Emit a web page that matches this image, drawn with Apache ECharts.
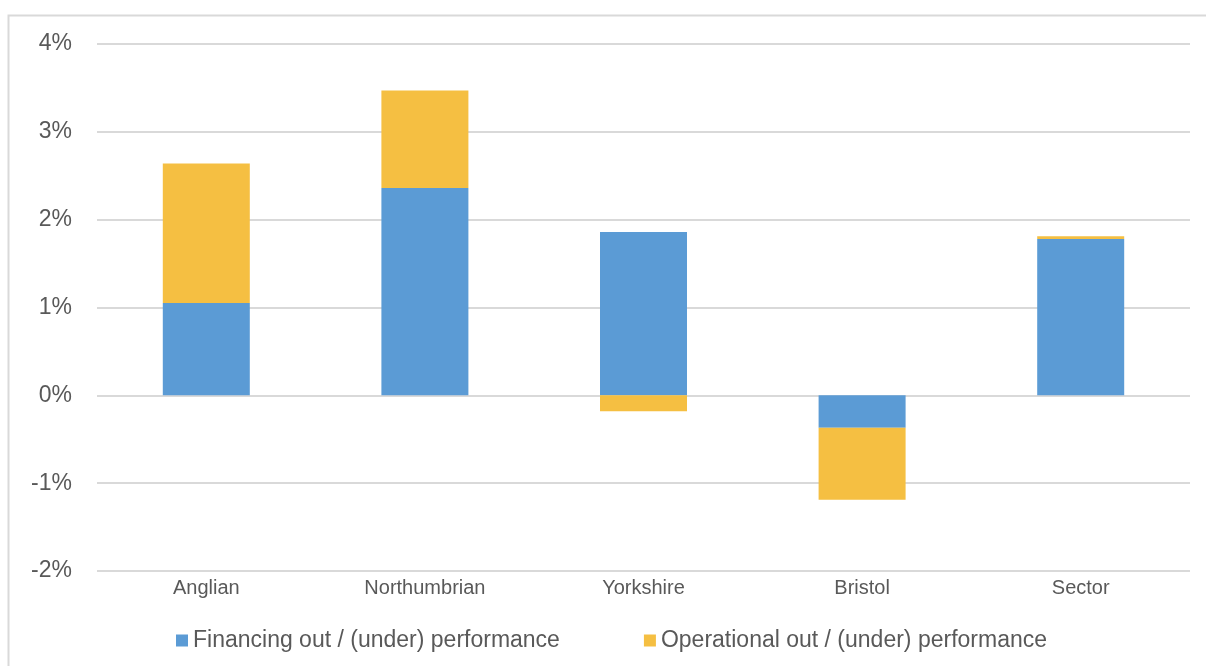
<html lang="en">
<head>
    <meta charset="UTF-8">
    <title>Out / (under) performance</title>
    <style>
        body { margin: 0; background: #fff; }
        #echart { width: 1206px; height: 666px; }
    </style>
</head>
<body>
<div id="echart"></div>
<script src="https://cdn.jsdelivr.net/npm/echarts@6/dist/echarts.min.js"></script>
<script>
    // categories and stacked values (percent)
    const companies = ['Anglian', 'Northumbrian', 'Yorkshire', 'Bristol', 'Sector']
    const financing = [1.05, 2.36, 1.86, -0.37, 1.78]
    const operational = [1.59, 1.11, -0.18, -0.82, 0.03]
    const seriesNames = ['Financing out / (under) performance', 'Operational out / (under) performance']

    const echart = echarts.init(document.getElementById('echart'))

    echart.setOption({
        animation: false,
        textStyle: { fontFamily: 'Liberation Sans, Arial, sans-serif' },
        // light frame round the chart area
        graphic: [{
            type: 'rect',
            left: 6, top: 13,
            shape: { width: 1240, height: 700 },
            style: { fill: 'none', stroke: '#d9d9d9', lineWidth: 2 },
            silent: true
        }],
        grid: { left: 97, right: 16, top: 44, bottom: 95 },
        legend: {
            left: 171, top: 624,
            itemWidth: 12, itemHeight: 12,
            itemGap: 84,
            icon: 'rect',
            textStyle: { color: '#595959', fontSize: 23 },
            data: seriesNames
        },
        xAxis: {
            type: 'category',
            data: companies,
            axisLine: { show: false },
            axisTick: { show: false },
            axisLabel: { color: '#595959', fontSize: 20, margin: 7 }
        },
        yAxis: {
            type: 'value',
            min: -2, max: 4, interval: 1,
            axisLabel: {
                color: '#595959', fontSize: 23, margin: 25,
                formatter: v => v + '%'
            },
            splitLine: { lineStyle: { color: '#d9d9d9', width: 2 } }
        },
        series: [{
            name: seriesNames[0],
            type: 'bar',
            stack: 'perf',
            barWidth: 87,
            itemStyle: { color: '#5b9bd5' },
            data: financing
        }, {
            name: seriesNames[1],
            type: 'bar',
            stack: 'perf',
            barWidth: 87,
            itemStyle: { color: '#f5bf42' },
            data: operational
        }]
    })
</script>
</body>
</html>
